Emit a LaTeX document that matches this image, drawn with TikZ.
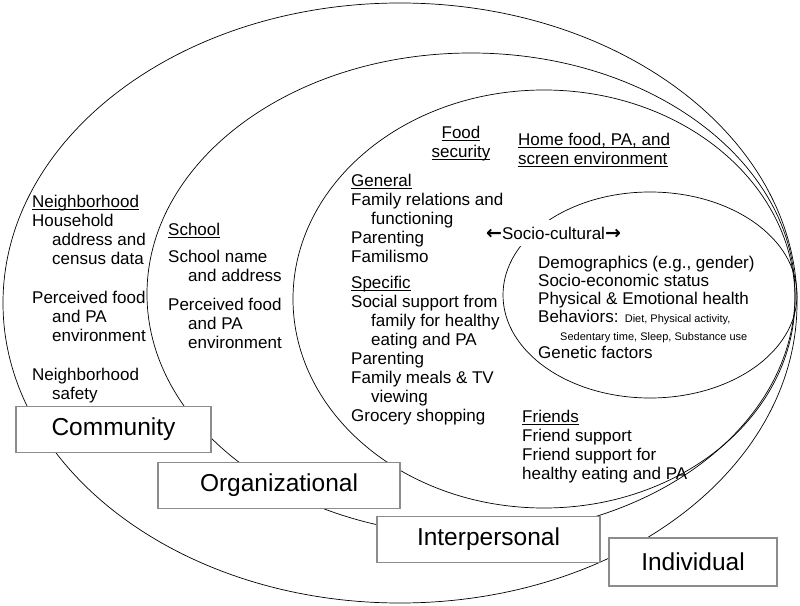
\documentclass[tikz,border=0pt]{standalone}
\usepackage{fontspec}
\setmainfont{Liberation Sans}
\newfontfamily\arrowfont{DejaVu Sans}
\usetikzlibrary{shapes.geometric}

\newcommand{\indt}{\hspace*{20bp}}
\newcommand{\uln}[1]{\setbox0\hbox{#1}\rlap{\rule[-2.3bp]{\wd0}{0.9bp}}\box0}
\newcommand{\arw}[1]{{\arrowfont\bfseries\fontsize{19bp}{19bp}\selectfont #1}}

\begin{document}
\begin{tikzpicture}[x=1bp, y=-1bp, font=\fontsize{17bp}{19bp}\selectfont]

    \tikzstyle{ring} = [draw, ellipse, line width=0.7bp, inner sep=0pt]
    \tikzstyle{level} = [draw=black!45, line width=1.2bp, fill=white, rectangle,
                         minimum height=46bp, font=\fontsize{24.5bp}{28bp}\selectfont]
    \tikzstyle{items} = [align=left, anchor=north west, inner sep=0pt]

    \useasboundingbox (0,0) rectangle (800,606);

    % Nested levels
    \node[ring, minimum width=794bp, minimum height=600bp] (comm) at (400,303) {};
    \node[ring, minimum width=648bp, minimum height=482bp] (org) at (471,294) {};
    \node[ring, minimum width=502bp, minimum height=418bp] (inter) at (544,299) {};
    \node[ring, minimum width=294bp, minimum height=206bp] (indiv) at (650,295) {};

    % Community
    \node[items] (nbh) at (32,193.7) {\strut\uln{Neighborhood}\\
        Household\\ \indt address and\\ \indt census data\\[20bp]
        Perceived food\\ \indt and PA\\ \indt environment\\[20bp]
        Neighborhood\\ \indt safety};

    % Organizational
    \node[items] (school) at (168,221.7) {\strut\uln{School}\\[8bp]
        School name\\ \indt and address\\[10bp]
        Perceived food\\ \indt and PA\\ \indt environment};

    % Interpersonal
    \node[items, align=center, anchor=north] (foodsec) at (461,124.7)
        {\strut\uln{Food}\\ \uln{security}};
    \node[items] (homeenv) at (518,131.7)
        {\strut\uln{Home food, PA, and}\\ \uln{screen environment}};
    \node[items] (family) at (351,172.7) {\strut\uln{General}\\
        Family relations and\\ \indt functioning\\ Parenting\\ Familismo\\[7bp]
        \uln{Specific}\\
        Social support from\\ \indt family for healthy\\ \indt eating and PA\\
        Parenting\\ Family meals \& TV\\ \indt viewing\\ Grocery shopping};
    \node[items] (friends) at (522,408.7) {\strut\uln{Friends}\\
        Friend support\\ Friend support for\\ healthy eating and PA};

    % Individual
    \node[items, font=\fontsize{17bp}{18bp}\selectfont] (traits) at (538,255.4)
        {\strut Demographics (e.g., gender)\\ Socio-economic status\\
        Physical \& Emotional health\\
        Behaviors: {\fontsize{11bp}{18bp}\selectfont Diet, Physical activity,}\\
        {\fontsize{11bp}{18bp}\selectfont\hspace*{22bp}Sedentary time, Sleep, Substance use}\\
        Genetic factors};
    \node[fill=white, inner xsep=1bp, inner ysep=7bp] (socio) at (553.5,233)
        {\arw{←}Socio-cultural\arw{→}};

    % Level labels
    \node[level, minimum width=195bp] (commbox) at (113.5,429.5) {Community};
    \node[level, minimum width=242bp] (orgbox) at (279,485.5) {Organizational};
    \node[level, minimum width=223bp] (interbox) at (488.5,539.5) {Interpersonal};
    \node[level, minimum width=168bp, minimum height=48bp] (indivbox) at (693,562) {Individual};

\end{tikzpicture}
\end{document}
